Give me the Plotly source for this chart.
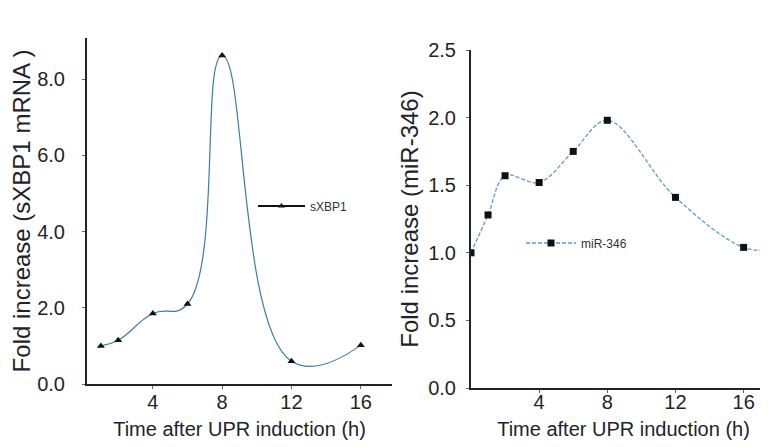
import plotly.graph_objects as go

# ---- data ----
time_sxbp1 = [1, 2, 4, 6, 8, 12, 16]
fold_sxbp1 = [1.0, 1.15, 1.85, 2.1, 8.62, 0.6, 1.02]

time_mir = [0, 1, 2, 4, 6, 8, 12, 16, 18]
fold_mir = [1.0, 1.28, 1.57, 1.52, 1.75, 1.98, 1.41, 1.04, 1.02]

x_ticks = [4, 8, 12, 16]
y1_ticks = [0, 2, 4, 6, 8]
y2_ticks = [0, 0.5, 1.0, 1.5, 2.0, 2.5]

x_title = "Time after UPR induction (h)"
y1_title = "Fold increase (sXBP1 mRNA )"
y2_title = "Fold increase (miR-346)"

W, H = 768, 447
FONT = "Liberation Sans, Arial, sans-serif"
TXT = "#1e2428"
AX = "#1e2428"

fig = go.Figure()

# left panel: smoothed curve
fig.add_trace(go.Scatter(
    x=time_sxbp1, y=fold_sxbp1, mode="lines+markers",
    line=dict(shape="spline", smoothing=1.3, color="#3a7ea3", width=1.2, simplify=False),
    marker=dict(symbol="triangle-up", size=7, color="#111111"),
    showlegend=False, xaxis="x", yaxis="y", name="sXBP1",
))
# legend entry for left panel (black solid line)
fig.add_trace(go.Scatter(
    x=[None], y=[None], mode="lines+markers", name="sXBP1",
    line=dict(color="#111111", width=2.2),
    marker=dict(symbol="triangle-up", size=6, color="#111111"),
    xaxis="x", yaxis="y", legend="legend",
))
# right panel
fig.add_trace(go.Scatter(
    x=time_mir, y=fold_mir, mode="lines+markers", name="miR-346",
    line=dict(shape="spline", smoothing=1.0, color="#5b9cc8", width=1.3,
              dash="4px,2px", simplify=False),
    marker=dict(symbol="square", size=7, color="#111111"),
    xaxis="x2", yaxis="y2", legend="legend2",
))

def px_x(p):
    return p / W

def px_y(p):
    return (H - p) / H

axis_common = dict(
    showline=True, linecolor=AX, linewidth=2, showgrid=False, zeroline=False,
    ticks="outside", ticklen=3, tickwidth=1, tickcolor="#666666",
    tickfont=dict(family=FONT, size=20, color=TXT),
    automargin=False,
)

fig.update_layout(
    width=W, height=H,
    margin=dict(l=0, r=0, t=0, b=0),
    paper_bgcolor="white", plot_bgcolor="white",
    font=dict(family=FONT, color=TXT),
    xaxis=dict(axis_common, domain=[px_x(79), px_x(384)], range=[0.2, 17.8],
               tickvals=x_ticks, anchor="y", ticklabelstandoff=-4,
               title=dict(text=x_title, font=dict(size=20, color=TXT), standoff=10)),
    yaxis=dict(axis_common, domain=[px_y(376), px_y(30)], range=[0, 9.08],
               tickvals=y1_ticks, tickformat=".1f", anchor="x", ticklabelstandoff=13,
               title=dict(text=y1_title, font=dict(size=24, color=TXT), standoff=6)),
    xaxis2=dict(axis_common, domain=[px_x(463), 1.0], range=[0, 17.9],
                tickvals=x_ticks, anchor="y2", ticklabelstandoff=-8,
                title=dict(text=x_title, font=dict(size=20, color=TXT), standoff=10)),
    yaxis2=dict(axis_common, domain=[px_y(380), px_y(42)], range=[0, 2.5],
                tickvals=y2_ticks, tickformat=".1f", anchor="x2", ticklabelstandoff=6,
                title=dict(text=y2_title, font=dict(size=24, color=TXT), standoff=3)),
    legend=dict(x=px_x(245), y=px_y(198), xanchor="left", yanchor="middle",
                bgcolor="rgba(0,0,0,0)", itemwidth=47,
                font=dict(family=FONT, size=12, color="#333333")),
    legend2=dict(x=px_x(513), y=px_y(235), xanchor="left", yanchor="middle",
                 bgcolor="rgba(0,0,0,0)", itemwidth=50,
                 font=dict(family=FONT, size=12, color="#333333")),
)

fig.write_html("out.html")
